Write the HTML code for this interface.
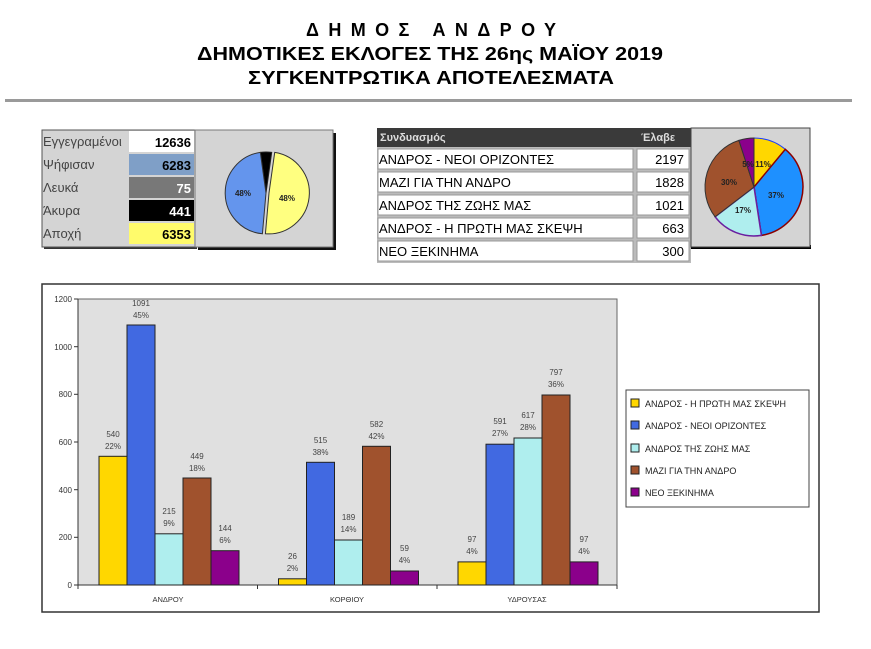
<!DOCTYPE html>
<html><head><meta charset="utf-8"><style>
body{margin:0;width:871px;height:644px;background:#fff;font-family:"Liberation Sans",sans-serif;overflow:hidden}
</style></head><body>
<svg width="871" height="644" xmlns="http://www.w3.org/2000/svg" font-family="Liberation Sans, sans-serif">
<!-- title -->
<g font-weight="bold" text-anchor="middle" fill="#000">
<text x="431" y="36" font-size="18" textLength="250" lengthAdjust="spacing">ΔΗΜΟΣ    ΑΝΔΡΟΥ</text>
<text x="430" y="60" font-size="18" textLength="466" lengthAdjust="spacingAndGlyphs">ΔΗΜΟΤΙΚΕΣ ΕΚΛΟΓΕΣ ΤΗΣ 26ης ΜΑΪΟΥ 2019</text>
<text x="431" y="84" font-size="18" textLength="366" lengthAdjust="spacingAndGlyphs">ΣΥΓΚΕΝΤΡΩΤΙΚΑ ΑΠΟΤΕΛΕΣΜΑΤΑ</text>
</g>
<rect x="5" y="99" width="847" height="3" fill="#9a9a9a"/>

<!-- left table -->
<rect x="44" y="132" width="153" height="117" fill="#333"/>
<rect x="42" y="130" width="153" height="117" fill="#d4d4d4" stroke="#555" stroke-width="1"/>
<g font-size="13" fill="#444">
<text x="43" y="146">Εγγεγραμένοι</text>
<text x="43" y="169">Ψήφισαν</text>
<text x="43" y="192">Λευκά</text>
<text x="43" y="215">Άκυρα</text>
<text x="43" y="238">Αποχή</text>
</g>
<rect x="129" y="131" width="65" height="21" fill="#fff"/>
<rect x="129" y="154" width="65" height="21" fill="#7f9fc7"/>
<rect x="129" y="177" width="65" height="21" fill="#787878"/>
<rect x="129" y="200" width="65" height="21" fill="#000"/>
<rect x="129" y="223" width="65" height="21" fill="#fffb6b"/>
<g font-size="13" font-weight="bold" text-anchor="end">
<text x="191" y="147" fill="#000">12636</text>
<text x="191" y="170" fill="#000">6283</text>
<text x="191" y="193" fill="#fff">75</text>
<text x="191" y="216" fill="#fff">441</text>
<text x="191" y="239" fill="#000">6353</text>
</g>
<!-- pie1 panel -->
<rect x="198" y="133" width="138" height="117" fill="#111"/>
<rect x="195" y="130" width="138" height="117" fill="#d4d4d4" stroke="#777" stroke-width="1"/>
<path d="M266,193 L260.3,152.4 A41,41 0 0 1 271.7,152.4 Z" fill="#000" stroke="#222"/>
<path d="M269,193 L274.7,152.4 A41,41 0 0 1 265.4,233.8 Z" fill="#ffff80" stroke="#333"/>
<path d="M266,193 L262.4,233.8 A41,41 0 0 1 260.3,152.4 Z" fill="#6495ed" stroke="#333"/>
<g font-size="8" font-weight="bold" fill="#222" text-anchor="middle">
<text x="243" y="196">48%</text><text x="287" y="201">48%</text>
</g>

<!-- right table -->
<rect x="377" y="128" width="314" height="135" fill="#bbb"/>
<rect x="377" y="128" width="314" height="19" fill="#3a3a3a"/>
<text x="380" y="141" font-size="11" font-weight="bold" fill="#ddd">Συνδυασμός</text>
<text x="641" y="141" font-size="11" font-weight="bold" fill="#ddd">Έλαβε</text>
<g fill="#fff" stroke="#999">
<rect x="378" y="149" width="255" height="20"/><rect x="637" y="149" width="52" height="20"/>
<rect x="378" y="172" width="255" height="20"/><rect x="637" y="172" width="52" height="20"/>
<rect x="378" y="195" width="255" height="20"/><rect x="637" y="195" width="52" height="20"/>
<rect x="378" y="218" width="255" height="20"/><rect x="637" y="218" width="52" height="20"/>
<rect x="378" y="241" width="255" height="20"/><rect x="637" y="241" width="52" height="20"/>
</g>
<g font-size="13" fill="#000">
<text x="379" y="164">ΑΝΔΡΟΣ - ΝΕΟΙ ΟΡΙΖΟΝΤΕΣ</text>
<text x="379" y="187">ΜΑΖΙ ΓΙΑ ΤΗΝ ΑΝΔΡΟ</text>
<text x="379" y="210">ΑΝΔΡΟΣ ΤΗΣ ΖΩΗΣ ΜΑΣ</text>
<text x="379" y="233">ΑΝΔΡΟΣ - Η ΠΡΩΤΗ ΜΑΣ ΣΚΕΨΗ</text>
<text x="379" y="256">ΝΕΟ ΞΕΚΙΝΗΜΑ</text>
</g>
<g font-size="13" fill="#000" text-anchor="end">
<text x="684" y="164">2197</text><text x="684" y="187">1828</text><text x="684" y="210">1021</text><text x="684" y="233">663</text><text x="684" y="256">300</text>
</g>
<!-- pie2 panel -->
<rect x="691" y="245" width="120" height="4" fill="#000"/>
<rect x="691" y="128" width="119" height="119" fill="#d4d4d4" stroke="#444"/>
<path d="M754,187 L754,138 A49,49 0 0 1 785.3,149.3 Z" fill="#ffd700" stroke="#1a3cff" stroke-width="1"/>
<path d="M754,187 L785.3,149.3 A49,49 0 0 1 761.4,235.4 Z" fill="#1e90ff" stroke="#8b0000" stroke-width="1.5"/>
<path d="M754,187 L761.4,235.4 A49,49 0 0 1 715.1,216.8 Z" fill="#afeeee" stroke="#6a1fa0" stroke-width="1.5"/>
<path d="M754,187 L715.1,216.8 A49,49 0 0 1 738.9,140.4 Z" fill="#a0522d" stroke="#333" stroke-width="1"/>
<path d="M754,187 L738.9,140.4 A49,49 0 0 1 754,138 Z" fill="#8b008b" stroke="#333" stroke-width="1"/>
<g font-size="8" font-weight="bold" fill="#222" text-anchor="middle">
<text x="763" y="167">11%</text><text x="748" y="167">5%</text><text x="776" y="198">37%</text><text x="743" y="213">17%</text><text x="729" y="185">30%</text>
</g>

<!-- bar chart -->
<rect x="42" y="284" width="777" height="328" fill="#fff" stroke="#333" stroke-width="1.5"/>
<rect x="78" y="299" width="539" height="286" fill="#e0e0e0" stroke="#666"/>
<g stroke="#333" stroke-width="1">
<line x1="78" y1="299" x2="78" y2="589"/><line x1="78" y1="585" x2="617" y2="585"/>
<line x1="74" y1="299" x2="78" y2="299"/><line x1="74" y1="346.7" x2="78" y2="346.7"/><line x1="74" y1="394.3" x2="78" y2="394.3"/><line x1="74" y1="442" x2="78" y2="442"/><line x1="74" y1="489.7" x2="78" y2="489.7"/><line x1="74" y1="537.3" x2="78" y2="537.3"/><line x1="74" y1="585" x2="78" y2="585"/>
<line x1="257.5" y1="585" x2="257.5" y2="589"/><line x1="437" y1="585" x2="437" y2="589"/><line x1="617" y1="585" x2="617" y2="589"/>
</g>
<g font-size="8" fill="#333" text-anchor="end">
<text x="72" y="302">1200</text><text x="72" y="350">1000</text><text x="72" y="397">800</text><text x="72" y="445">600</text><text x="72" y="493">400</text><text x="72" y="540">200</text><text x="72" y="588">0</text>
</g>
<g stroke="#222" stroke-width="1">
<rect x="99" y="456.3" width="28" height="128.7" fill="#ffd700"/>
<rect x="127" y="325" width="28" height="260" fill="#4169e1"/>
<rect x="155" y="533.8" width="28" height="51.2" fill="#afeeee"/>
<rect x="183" y="478" width="28" height="107" fill="#a0522d"/>
<rect x="211" y="550.7" width="28" height="34.3" fill="#8b008b"/>
<rect x="278.5" y="578.8" width="28" height="6.2" fill="#ffd700"/>
<rect x="306.5" y="462.3" width="28" height="122.7" fill="#4169e1"/>
<rect x="334.5" y="540" width="28" height="45" fill="#afeeee"/>
<rect x="362.5" y="446.3" width="28" height="138.7" fill="#a0522d"/>
<rect x="390.5" y="571" width="28" height="14" fill="#8b008b"/>
<rect x="458" y="561.9" width="28" height="23.1" fill="#ffd700"/>
<rect x="486" y="444.2" width="28" height="140.8" fill="#4169e1"/>
<rect x="514" y="438" width="28" height="147" fill="#afeeee"/>
<rect x="542" y="395" width="28" height="190" fill="#a0522d"/>
<rect x="570" y="561.9" width="28" height="23.1" fill="#8b008b"/>
</g>
<g font-size="8" fill="#444" text-anchor="middle">
<text x="113" y="437">540</text><text x="113" y="449">22%</text>
<text x="141" y="306">1091</text><text x="141" y="318">45%</text>
<text x="169" y="514">215</text><text x="169" y="526">9%</text>
<text x="197" y="459">449</text><text x="197" y="471">18%</text>
<text x="225" y="531">144</text><text x="225" y="543">6%</text>
<text x="292.5" y="559">26</text><text x="292.5" y="571">2%</text>
<text x="320.5" y="443">515</text><text x="320.5" y="455">38%</text>
<text x="348.5" y="520">189</text><text x="348.5" y="532">14%</text>
<text x="376.5" y="427">582</text><text x="376.5" y="439">42%</text>
<text x="404.5" y="551">59</text><text x="404.5" y="563">4%</text>
<text x="472" y="542">97</text><text x="472" y="554">4%</text>
<text x="500" y="424">591</text><text x="500" y="436">27%</text>
<text x="528" y="418">617</text><text x="528" y="430">28%</text>
<text x="556" y="375">797</text><text x="556" y="387">36%</text>
<text x="584" y="542">97</text><text x="584" y="554">4%</text>
</g>
<g font-size="7.5" fill="#333" text-anchor="middle">
<text x="168" y="602">ΑΝΔΡΟΥ</text><text x="347" y="602">ΚΟΡΘΙΟΥ</text><text x="527" y="602">ΥΔΡΟΥΣΑΣ</text>
</g>
<!-- legend -->
<rect x="626" y="390" width="183" height="117" fill="#fff" stroke="#444"/>
<g stroke="#222">
<rect x="631" y="399" width="8" height="8" fill="#ffd700"/>
<rect x="631" y="421" width="8" height="8" fill="#4169e1"/>
<rect x="631" y="444" width="8" height="8" fill="#afeeee"/>
<rect x="631" y="466" width="8" height="8" fill="#a0522d"/>
<rect x="631" y="488" width="8" height="8" fill="#8b008b"/>
</g>
<g font-size="9" fill="#222">
<text x="645" y="407">ΑΝΔΡΟΣ - Η ΠΡΩΤΗ ΜΑΣ ΣΚΕΨΗ</text>
<text x="645" y="429">ΑΝΔΡΟΣ - ΝΕΟΙ ΟΡΙΖΟΝΤΕΣ</text>
<text x="645" y="452">ΑΝΔΡΟΣ ΤΗΣ ΖΩΗΣ ΜΑΣ</text>
<text x="645" y="474">ΜΑΖΙ ΓΙΑ ΤΗΝ ΑΝΔΡΟ</text>
<text x="645" y="496">ΝΕΟ ΞΕΚΙΝΗΜΑ</text>
</g>
</svg>
</body></html>
